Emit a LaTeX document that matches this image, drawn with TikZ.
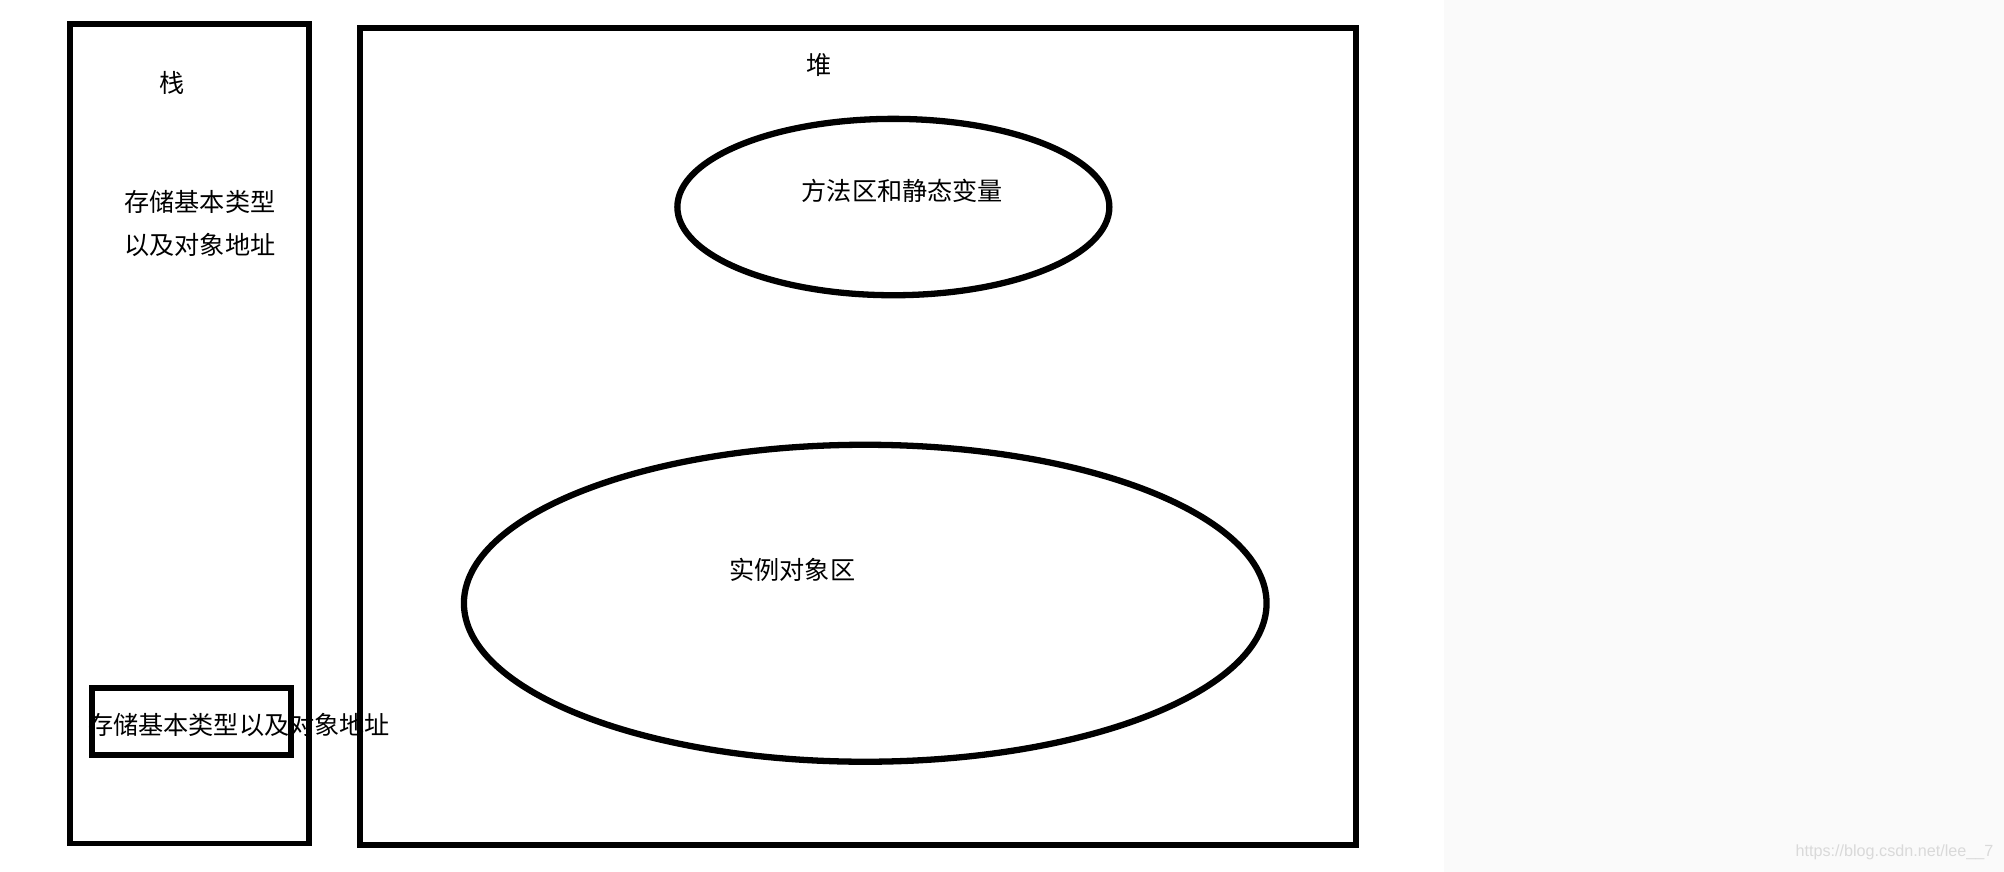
\documentclass[tikz,border=0pt]{standalone}
\usepackage{fontspec}
\setmainfont{Liberation Sans}
\newfontfamily\cjk{Noto Sans CJK SC}
\usetikzlibrary{shapes.geometric}
\begin{document}
\begin{tikzpicture}[
    x=0.2mm, y=-0.2mm,
    every node/.style={inner sep=0pt, font=\cjk\fontsize{11.2}{19.3}\selectfont},
    area/.style={draw, line width=2.6pt, rectangle},
    zone/.style={draw, line width=2.8pt, ellipse},
]
  \useasboundingbox (0,0) rectangle (1568,682);
  \fill[black!2] (1130,0) rectangle (1568,682);
  \node [area, minimum width=3.74cm,  minimum height=12.82cm]  (stack)  at (148.5,339.5)  {};
  \node [area, minimum width=15.58cm, minimum height=12.78cm]  (heap)   at (671.5,341.5)  {};
  \node [area, minimum width=3.12cm,  minimum height=1.06cm]   (slot)   at (150,564.5)    {};
  \node [zone, minimum width=6.76cm,  minimum height=2.76cm]   (method) at (699,162)      {};
  \node [zone, minimum width=12.56cm, minimum height=4.96cm]   (object) at (677,472)      {};
  \node []                        (stacklabel)  at (135,65)   {栈};
  \node [anchor=west, align=left] (stacktext)   at (97,175)   {存储基本类型\\以及对象地址};
  \node []                        (slottext)    at (187,567)  {存储基本类型以及对象地址};
  \node []                        (heaplabel)   at (641,51)   {堆};
  \node []                        (methodtext)  at (706,149)  {方法区和静态变量};
  \node []                        (objecttext)  at (620,446)  {实例对象区};
  \node [font=\fontsize{7.2}{8}\selectfont, text=black!15, anchor=east] (mark) at (1560,667) {https://blog.csdn.net/lee\_\_7};
\end{tikzpicture}
\end{document}
